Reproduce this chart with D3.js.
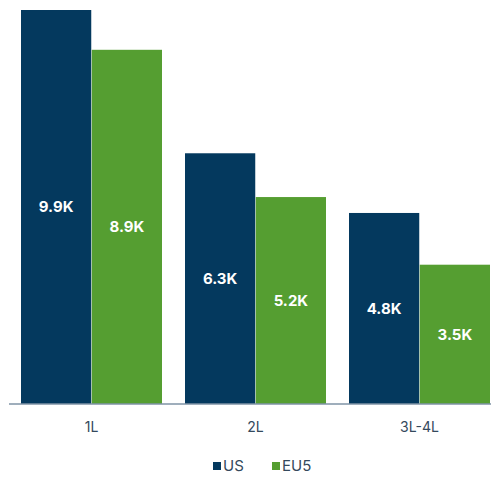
<!DOCTYPE html>
<html>
<head>
<meta charset="utf-8">
<script src="https://cdn.jsdelivr.net/npm/d3@7"></script>
<style>
  html, body { margin: 0; padding: 0; background: #fff; }
  svg { display: block; font-family: Inter, Roboto, "Noto Sans", sans-serif; }
</style>
</head>
<body>
<svg id="chart" width="491" height="477"></svg>
<script>
// Lines of therapy and patient counts (thousands) per region
const categories = ["1L", "2L", "3L-4L"];
const seriesNames = ["US", "EU5"];
const usValues = [9.9, 6.3, 4.8];
const eu5Values = [8.9, 5.2, 3.5];
const seriesColors = ["#04395e", "#559e31"];

const svg = d3.select("#chart");
const baseY = 404;

const x0 = d3.scaleBand().domain(categories).range([21, 490]).paddingInner(23 / 164).paddingOuter(0);
const x1 = d3.scaleBand().domain(seriesNames).range([0, x0.bandwidth()]).paddingInner(1 / 141);
const y = d3.scaleLinear().domain([0, 9.9]).range([baseY, 10]);
const color = d3.scaleOrdinal().domain(seriesNames).range(seriesColors);

const rows = categories.map((c, i) => ({
  cat: c,
  vals: [{ s: "US", v: usValues[i] }, { s: "EU5", v: eu5Values[i] }]
}));

const groups = svg.selectAll("g.grp").data(rows).join("g")
  .attr("class", "grp")
  .attr("transform", d => `translate(${x0(d.cat)},0)`);

groups.selectAll("rect").data(d => d.vals).join("rect")
  .attr("x", d => x1(d.s))
  .attr("width", x1.bandwidth())
  .attr("y", d => y(d.v))
  .attr("height", d => baseY - y(d.v))
  .attr("fill", d => color(d.s));

groups.selectAll("text.val").data(d => d.vals).join("text")
  .attr("class", "val")
  .attr("x", d => x1(d.s) + x1.bandwidth() / 2)
  .attr("y", d => (y(d.v) + baseY) / 2)
  .attr("dy", "0.36em")
  .attr("text-anchor", "middle")
  .attr("fill", "#fff")
  .attr("font-weight", 700)
  .attr("font-size", 15)
  .text(d => d.v.toFixed(1) + "K");

// Category axis
const axis = svg.append("g")
  .attr("transform", `translate(0,${baseY})`)
  .call(d3.axisBottom(x0).tickSize(0).tickPadding(18));
axis.select(".domain").attr("d", "M9,0H491").attr("stroke", "#7f93a6").attr("stroke-width", 1.5);
axis.selectAll("text")
  .attr("font-family", "Inter, Roboto, sans-serif")
  .attr("font-size", 14)
  .attr("fill", "#34495c");

// Legend
const legendItems = [
  { name: "US", x: 213 },
  { name: "EU5", x: 272 }
];
const legend = svg.append("g").selectAll("g").data(legendItems).join("g")
  .attr("transform", d => `translate(${d.x},462)`);
legend.append("rect")
  .attr("width", 8).attr("height", 8)
  .attr("fill", d => color(d.name));
legend.append("text")
  .attr("x", 10).attr("y", 8.5)
  .attr("font-size", 15)
  .attr("fill", "#34495c")
  .text(d => d.name);
</script>
</body>
</html>
